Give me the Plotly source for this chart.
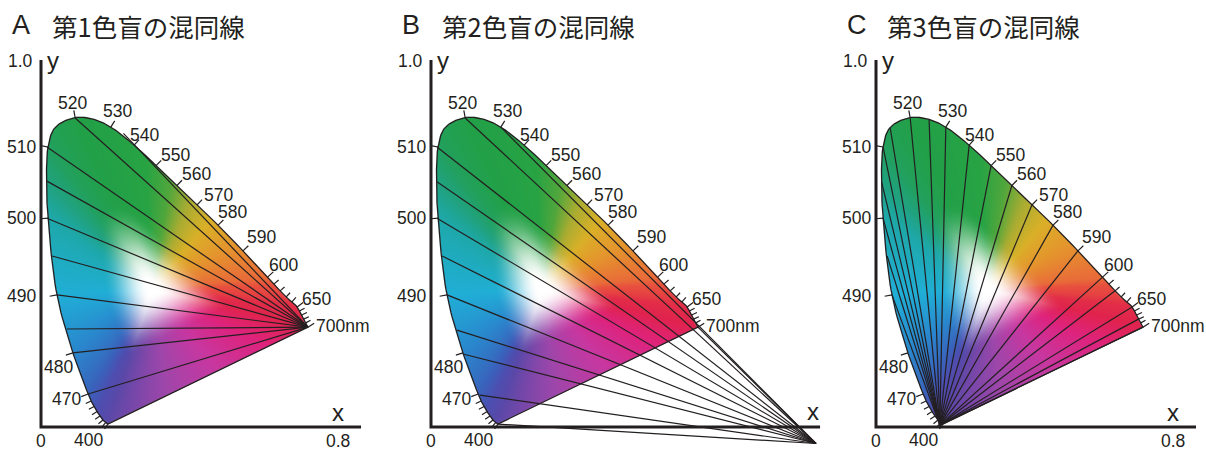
import base64
import struct
import zlib

import numpy as np
import plotly.graph_objects as go

INK = "#231f20"
LATIN = "Liberation Sans, Arial, sans-serif"
CJK = "Noto Sans CJK JP, sans-serif"

# ---- spectral locus as drawn (nm, x, y) ---------------------------------
locus_nm = [400, 410, 420, 430, 440, 450, 460, 470, 480, 490, 500, 505, 510,
            515, 520, 525, 530, 540, 550, 560, 570, 580, 590, 600, 610, 620,
            630, 640, 650, 660, 670, 680, 690, 700]
locus_x = [0.180, 0.174, 0.167, 0.159, 0.151, 0.143, 0.135, 0.127, 0.086,
           0.043, 0.019, 0.015, 0.019, 0.038, 0.092, 0.143, 0.188, 0.251,
           0.310, 0.366, 0.420, 0.477, 0.544, 0.611, 0.628, 0.644, 0.660,
           0.676, 0.690, 0.696, 0.702, 0.707, 0.712, 0.719]
locus_y = [0.008, 0.012, 0.019, 0.030, 0.042, 0.056, 0.071, 0.090, 0.202,
           0.360, 0.569, 0.668, 0.763, 0.816, 0.843, 0.838, 0.817, 0.768,
           0.712, 0.658, 0.605, 0.550, 0.480, 0.409, 0.390, 0.371, 0.354,
           0.341, 0.327, 0.316, 0.305, 0.294, 0.283, 0.272]

major_ticks = [470, 480, 490, 500, 510, 520, 530, 540, 550, 560, 570, 580,
               590, 600, 650, 700]
minor_ticks = [400, 410, 420, 430, 440, 450, 460, 610, 620, 630, 640, 660,
               670, 680, 690]

# wavelength labels (text, x, y, anchor)
wl_text = ["520", "530", "540", "550", "560", "570", "580", "590", "600",
           "650", "700nm", "510", "500", "490", "480", "470", "400"]
wl_x = [0.086, 0.205, 0.280, 0.361, 0.420, 0.477, 0.517, 0.595, 0.652,
        0.743, 0.736, -0.007, -0.007, -0.007, 0.046, 0.070, 0.127]
wl_y = [0.883, 0.861, 0.796, 0.741, 0.689, 0.632, 0.586, 0.518, 0.441,
        0.349, 0.275, 0.763, 0.569, 0.357, 0.163, 0.076, -0.035]
wl_anchor = ["center"] * 10 + ["left", "right", "right", "right",
                               "center", "center", "center"]

# ---- fill colours along the boundary -----------------------------------
edge_nm = [400, 440, 470, 480, 490, 500, 505, 510, 520, 545, 557, 567, 577,
           587, 597, 612, 650, 700]
edge_rgb = [(92, 72, 168), (78, 78, 176), (58, 98, 188), (42, 135, 205),
            (32, 174, 214), (30, 168, 170), (32, 162, 128), (34, 160, 95),
            (34, 160, 72), (40, 163, 68), (80, 166, 60), (170, 172, 50),
            (218, 176, 40), (228, 150, 45), (232, 115, 55), (232, 80, 62),
            (226, 45, 72), (224, 35, 78)]
purple_frac = [0.0, 0.2, 0.45, 0.7, 1.0]
purple_rgb = [(224, 35, 78), (222, 35, 125), (200, 55, 160), (160, 70, 170),
              (92, 72, 168)]
white_point = (0.30, 0.375)

# ---- panels ------------------------------------------------------------
titles = ["第1色盲の混同線", "第2色盲の混同線", "第3色盲の混同線"]
letters = ["A", "B", "C"]
copunctal = [(0.719, 0.272), (1.037, -0.045), (0.172, 0.005)]
line_start_x = [
    [0.092, 0.222, 0.016, 0.016, 0.016, 0.030, 0.043, 0.070, 0.086, 0.127],
    [0.092, 0.188, 0.719, 0.016, 0.016, 0.016, 0.030, 0.043, 0.070, 0.086,
     0.132, 0.180],
    [0.030, 0.043, 0.019, 0.015, 0.019, 0.038, 0.092, 0.143, 0.188, 0.251,
     0.310, 0.366, 0.420, 0.477, 0.544, 0.611, 0.644, 0.690, 0.707, 0.719],
]
line_start_y = [
    [0.842, 0.800, 0.763, 0.670, 0.569, 0.466, 0.360, 0.267, 0.202, 0.090],
    [0.842, 0.817, 0.272, 0.763, 0.668, 0.569, 0.466, 0.360, 0.264, 0.199,
     0.087, 0.008],
    [0.466, 0.360, 0.569, 0.668, 0.763, 0.816, 0.843, 0.838, 0.817, 0.768,
     0.712, 0.658, 0.605, 0.550, 0.480, 0.409, 0.371, 0.327, 0.294, 0.272],
]
x_axis_end = [0.862, 1.048, 0.862]
x_label_pos = [(0.800, 0.040), (1.030, 0.043), (0.800, 0.040)]
show_08 = [True, False, True]

# pixel geometry of the three panels
FIG_W, FIG_H = 1206, 450
KX, KY = 371.25, 367.0
origin_px = [41, 431, 876]
panel_px = [(0, 400), (400, 840), (840, 1206)]
ORIGIN_Y = 427


def cr_segment(p0, p1, p2, p3, n, alpha=0.5):
    def knot(t, a, b):
        return t + np.linalg.norm(b - a) ** alpha
    t0 = 0.0
    t1 = knot(t0, p0, p1)
    t2 = knot(t1, p1, p2)
    t3 = knot(t2, p2, p3)
    t = np.linspace(t1, t2, n, endpoint=False)[:, None]
    a1 = (t1 - t) / (t1 - t0) * p0 + (t - t0) / (t1 - t0) * p1
    a2 = (t2 - t) / (t2 - t1) * p1 + (t - t1) / (t2 - t1) * p2
    a3 = (t3 - t) / (t3 - t2) * p2 + (t - t2) / (t3 - t2) * p3
    b1 = (t2 - t) / (t2 - t0) * a1 + (t - t0) / (t2 - t0) * a2
    b2 = (t3 - t) / (t3 - t1) * a2 + (t - t1) / (t3 - t1) * a3
    return (t2 - t) / (t2 - t1) * b1 + (t - t1) / (t2 - t1) * b2


def smooth_curve(xs, ys, n=14):
    p = np.column_stack([xs, ys]).astype(float)
    ext = np.vstack([2 * p[0] - p[1], p, 2 * p[-1] - p[-2]])
    pts, par = [], []
    for i in range(len(p) - 1):
        pts.append(cr_segment(ext[i], ext[i + 1], ext[i + 2], ext[i + 3], n))
        par.append(i + np.arange(n) / n)
    pts.append(p[-1:])
    par.append(np.array([len(p) - 1.0]))
    return np.vstack(pts), np.concatenate(par)


N_CURVE = 14
curve, curve_par = smooth_curve(locus_x, locus_y, N_CURVE)
curve_nm = np.interp(curve_par, np.arange(len(locus_nm)), locus_nm)


def edge_colour(nm):
    arr = np.array(edge_rgb, float)
    return np.column_stack([np.interp(nm, edge_nm, arr[:, k]) for k in range(3)])


def purple_colour(f):
    arr = np.array(purple_rgb, float)
    return np.column_stack([np.interp(f, purple_frac, arr[:, k]) for k in range(3)])


# closed boundary: spectral curve then the purple line back to 400 nm
frac = np.linspace(0, 1, 90)[1:-1]
p700 = curve[-1]
p400 = curve[0]
purple_pts = p700[None, :] + frac[:, None] * (p400 - p700)[None, :]
boundary = np.vstack([curve, purple_pts])
boundary_rgb = np.vstack([edge_colour(curve_nm), purple_colour(frac)])

wx, wy = white_point
b_ang = np.arctan2(boundary[:, 1] - wy, boundary[:, 0] - wx)
b_rad = np.hypot(boundary[:, 0] - wx, boundary[:, 1] - wy)
order = np.argsort(b_ang)
b_ang, b_rad, b_rgb = b_ang[order], b_rad[order], boundary_rgb[order]

sx, sy = 1 / KX, 1 / KY
gx = np.arange(-0.01, 0.765, sx)
gy = np.arange(0.885, -0.015, -sy)
X, Y = np.meshgrid(gx, gy)
ang = np.arctan2(Y - wy, X - wx)
rad = np.hypot(X - wx, Y - wy)
R = np.interp(ang, b_ang, b_rad, period=2 * np.pi)
col = np.stack([np.interp(ang, b_ang, b_rgb[:, k], period=2 * np.pi)
                for k in range(3)], axis=-1)
t = np.clip((rad / R - 0.04) / (0.50 - 0.04), 0, 1)
s = (t * t * (3 - 2 * t))[..., None]
rgb = 255 * (1 - s) + col * s
alpha = np.clip((R - rad) * KX + 0.5, 0, 1)
rgba = np.dstack([rgb, alpha[..., None] * 255]).round().astype(np.uint8)


def png_uri(img):
    h, w, _ = img.shape
    raw = b"".join(b"\x00" + img[r].tobytes() for r in range(h))

    def chunk(tag, data):
        return (struct.pack(">I", len(data)) + tag + data
                + struct.pack(">I", zlib.crc32(tag + data) & 0xFFFFFFFF))
    png = (b"\x89PNG\r\n\x1a\n"
           + chunk(b"IHDR", struct.pack(">IIBBBBB", w, h, 8, 6, 0, 0, 0))
           + chunk(b"IDAT", zlib.compress(raw, 9))
           + chunk(b"IEND", b""))
    return "data:image/png;base64," + base64.b64encode(png).decode()


fill_uri = png_uri(rgba)

# tick marks perpendicular to the locus
tick_x, tick_y = [], []
for nm in major_ticks + minor_ticks:
    i = locus_nm.index(nm)
    k = i * N_CURVE
    a = curve[max(k - 1, 0)]
    b = curve[min(k + 1, len(curve) - 1)]
    tx, ty = b - a
    nx, ny = -ty, tx
    norm = np.hypot(nx, ny)
    nx, ny = nx / norm, ny / norm
    px, py = curve[k]
    if nx * (px - wx) + ny * (py - wy) < 0:
        nx, ny = -nx, -ny
    length = 0.020 if nm in major_ticks else 0.016
    tick_x += [px, px + nx * length, None]
    tick_y += [py, py + ny * length, None]

fig = go.Figure()
layout = dict(
    width=FIG_W, height=FIG_H, margin=dict(l=0, r=0, t=0, b=0),
    paper_bgcolor="white", plot_bgcolor="white", showlegend=False,
)
images, annotations = [], []

for p in range(3):
    suffix = "" if p == 0 else str(p + 1)
    xa, ya = "x" + suffix, "y" + suffix
    left, right = panel_px[p]
    ox = origin_px[p]
    layout["xaxis" + suffix] = dict(
        domain=[left / FIG_W, right / FIG_W],
        range=[(left - ox) / KX, (right - ox) / KX],
        visible=False, fixedrange=True)
    layout["yaxis" + suffix] = dict(
        domain=[0, 1], range=[(ORIGIN_Y - FIG_H) / KY, ORIGIN_Y / KY],
        visible=False, fixedrange=True, scaleanchor=False)

    images.append(dict(
        source=fill_uri, xref=xa, yref=ya, x=gx[0] - sx / 2, y=gy[0] + sy / 2,
        sizex=len(gx) * sx, sizey=len(gy) * sy, xanchor="left", yanchor="top",
        sizing="stretch", layer="below"))

    # confusion lines
    cx, cy = copunctal[p]
    lx, ly = [], []
    for x0, y0 in zip(line_start_x[p], line_start_y[p]):
        lx += [x0, cx, None]
        ly += [y0, cy, None]
    fig.add_trace(go.Scatter(x=lx, y=ly, mode="lines", xaxis=xa, yaxis=ya,
                             line=dict(color=INK, width=1.2), hoverinfo="skip"))

    # locus outline and purple line
    ox_ = list(curve[:, 0]) + [curve[0, 0]]
    oy_ = list(curve[:, 1]) + [curve[0, 1]]
    fig.add_trace(go.Scatter(x=ox_, y=oy_, mode="lines", xaxis=xa, yaxis=ya,
                             line=dict(color=INK, width=1.3), hoverinfo="skip"))
    fig.add_trace(go.Scatter(x=tick_x, y=tick_y, mode="lines", xaxis=xa,
                             yaxis=ya, line=dict(color=INK, width=1.2),
                             hoverinfo="skip"))

    # axes
    fig.add_trace(go.Scatter(x=[0, 0, x_axis_end[p]], y=[1.0, 0, 0],
                             mode="lines", xaxis=xa, yaxis=ya,
                             line=dict(color=INK, width=3), hoverinfo="skip"))

    for txt, x, y, anc in zip(wl_text, wl_x, wl_y, wl_anchor):
        annotations.append(dict(text=txt, x=x, y=y, xref=xa, yref=ya,
                                xanchor=anc, yanchor="middle", showarrow=False,
                                font=dict(family=LATIN, size=17.5, color=INK)))
    annotations.append(dict(text="1.0", x=-0.015, y=0.997, xref=xa, yref=ya,
                            xanchor="right", yanchor="middle", showarrow=False,
                            font=dict(family=LATIN, size=17.5, color=INK)))
    annotations.append(dict(text="y", x=0.012, y=1.0, xref=xa, yref=ya,
                            xanchor="left", yanchor="middle", showarrow=False,
                            font=dict(family=LATIN, size=24, color=INK)))
    annotations.append(dict(text="x", x=x_label_pos[p][0], y=x_label_pos[p][1],
                            xref=xa, yref=ya, xanchor="center",
                            yanchor="middle", showarrow=False,
                            font=dict(family=LATIN, size=24, color=INK)))
    annotations.append(dict(text="0", x=0.0, y=-0.038, xref=xa, yref=ya,
                            xanchor="center", yanchor="middle", showarrow=False,
                            font=dict(family=LATIN, size=17.5, color=INK)))
    if show_08[p]:
        annotations.append(dict(text="0.8", x=0.8, y=-0.038, xref=xa, yref=ya,
                                xanchor="center", yanchor="middle",
                                showarrow=False,
                                font=dict(family=LATIN, size=17.5, color=INK)))

    # panel title
    annotations.append(dict(text=letters[p], x=(ox - 31) / FIG_W,
                            y=1 - 25 / FIG_H, xref="paper", yref="paper",
                            xanchor="left", yanchor="middle", showarrow=False,
                            font=dict(family=LATIN, size=27, color=INK)))
    annotations.append(dict(text=titles[p], x=(ox + 9) / FIG_W,
                            y=1 - 25 / FIG_H, xref="paper", yref="paper",
                            xanchor="left", yanchor="middle", showarrow=False,
                            font=dict(family=CJK, size=25.5, color=INK)))

layout["images"] = images
layout["annotations"] = annotations
fig.update_layout(**layout)
fig.write_html("out.html")
